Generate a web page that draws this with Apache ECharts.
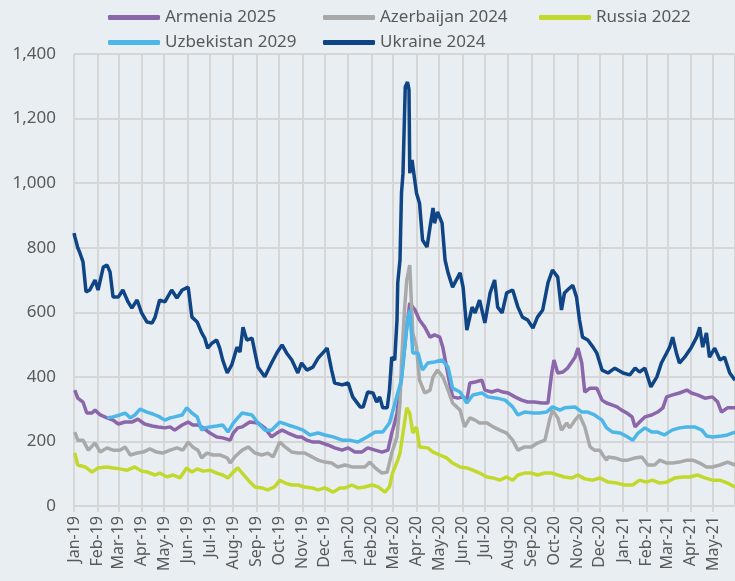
<!DOCTYPE html>
<html>
<head>
<meta charset="utf-8">
<script src="https://cdn.jsdelivr.net/npm/echarts@6/dist/echarts.min.js"></script>
<style>
html,body{margin:0;padding:0;background:#e9eef2;}
#main{width:735px;height:581px;}
</style>
</head>
<body>
<div id="main"></div>
<script>
// x values are days counted from 1 Jan 2019
var seriesNames = ['Armenia 2025', 'Azerbaijan 2024', 'Russia 2022', 'Uzbekistan 2029', 'Ukraine 2024'];
var seriesColors = ['#8c66ab', '#a9a9a9', '#c3d82c', '#4db6e8', '#0f4585'];
var monthNames = ['Jan','Feb','Mar','Apr','May','Jun','Jul','Aug','Sep','Oct','Nov','Dec'];

var armenia = [[1,359],[5,334],[12,322],[17,288],[24,288],[28,297],[35,282],[44,273],[52,266],[59,254],[68,260],[77,260],[85,269],[94,254],[104,248],[112,245],[121,242],[128,245],[134,235],[144,251],[152,260],[158,251],[165,251],[172,242],[181,226],[190,214],[198,211],[208,204],[212,226],[218,242],[224,245],[234,260],[245,257],[254,242],[263,214],[270,226],[277,235],[285,226],[297,214],[303,214],[310,204],[318,198],[327,198],[338,189],[347,180],[357,173],[365,180],[374,167],[383,167],[391,180],[401,173],[410,167],[418,173],[423,226],[427,257],[430,288],[436,400],[443,554],[447,629],[454,607],[460,576],[467,554],[474,523],[480,530],[487,523],[491,492],[496,430],[500,381],[504,338],[511,334],[518,338],[523,328],[527,381],[534,384],[543,390],[547,359],[556,353],[564,359],[571,353],[578,350],[587,338],[596,328],[604,322],[613,322],[623,319],[631,319],[636,412],[639,452],[644,412],[651,415],[657,427],[667,461],[671,489],[676,443],[680,353],[687,365],[696,365],[703,328],[709,319],[716,313],[723,307],[729,297],[736,288],[743,276],[747,245],[753,260],[760,276],[769,282],[777,291],[784,304],[789,338],[797,344],[806,350],[816,359],[822,350],[830,344],[840,334],[850,338],[857,322],[862,291],[870,304],[880,304]];

var azerbaijan = [[1,229],[5,204],[12,204],[19,173],[28,195],[35,167],[44,180],[52,173],[61,173],[68,183],[75,158],[84,164],[92,167],[101,177],[110,167],[118,164],[128,173],[137,180],[145,173],[152,198],[158,183],[165,173],[170,149],[177,164],[185,158],[194,158],[204,149],[208,133],[214,152],[221,167],[224,173],[232,183],[241,164],[250,158],[258,164],[265,152],[274,198],[281,183],[290,167],[298,164],[307,164],[317,152],[325,142],[334,136],[343,133],[351,121],[361,127],[370,121],[378,121],[387,121],[394,136],[401,118],[410,102],[417,105],[423,164],[430,214],[434,320],[436,443],[440,607],[443,700],[447,746],[451,536],[456,492],[460,390],[467,350],[474,359],[478,400],[484,421],[491,400],[498,359],[504,319],[514,297],[520,245],[527,273],[534,266],[540,257],[550,257],[558,245],[567,235],[576,226],[584,204],[591,173],[600,183],[609,183],[617,195],[627,204],[633,266],[637,297],[644,273],[649,235],[656,257],[660,242],[667,266],[673,282],[680,245],[687,183],[693,173],[700,173],[704,158],[709,142],[711,152],[720,149],[729,142],[737,142],[747,149],[756,152],[764,127],[773,127],[780,142],[789,133],[797,133],[806,136],[816,142],[824,142],[833,133],[842,121],[850,121],[860,127],[870,136],[880,127]];

var russia = [[1,164],[5,127],[15,121],[24,105],[32,118],[44,121],[52,118],[61,115],[71,111],[81,121],[90,108],[98,105],[108,96],[114,102],[124,90],[132,96],[141,87],[150,118],[157,105],[164,115],[172,108],[181,111],[190,102],[198,96],[205,87],[212,105],[218,118],[224,102],[232,80],[241,59],[250,56],[258,50],[267,59],[274,80],[281,71],[290,65],[298,65],[307,59],[317,56],[325,50],[334,56],[345,43],[354,56],[361,56],[370,65],[378,56],[387,59],[397,65],[405,59],[414,43],[420,59],[424,102],[431,142],[434,164],[438,226],[443,304],[447,288],[451,226],[456,245],[460,183],[471,180],[478,167],[487,158],[496,149],[504,133],[514,121],[523,118],[531,111],[540,102],[550,90],[558,87],[567,80],[576,90],[584,80],[591,96],[600,102],[609,102],[617,96],[627,102],[636,102],[644,96],[653,90],[663,87],[671,96],[680,84],[691,80],[700,87],[711,74],[723,71],[733,65],[744,65],[753,80],[762,74],[770,80],[780,71],[789,74],[800,87],[810,90],[820,90],[830,96],[840,87],[850,80],[860,80],[870,71],[880,59]];

var uzbekistan = [[44,273],[52,276],[61,282],[68,288],[75,273],[81,282],[88,300],[97,291],[105,285],[114,276],[121,266],[128,273],[134,276],[144,282],[150,304],[157,288],[164,276],[170,235],[174,242],[181,245],[190,248],[198,251],[205,229],[212,257],[218,273],[224,288],[237,282],[245,257],[254,235],[263,235],[274,260],[285,251],[297,242],[305,235],[314,220],[325,226],[334,220],[345,214],[357,204],[367,204],[378,198],[390,214],[401,229],[411,229],[420,257],[431,350],[436,390],[440,483],[444,576],[447,607],[451,474],[458,474],[464,421],[471,443],[480,446],[490,452],[498,430],[504,365],[514,353],[523,319],[531,344],[543,350],[551,338],[563,334],[574,328],[584,307],[591,282],[600,291],[611,288],[620,288],[629,291],[637,307],[647,297],[653,304],[667,307],[676,291],[684,291],[693,282],[703,266],[709,242],[717,229],[727,226],[737,214],[744,204],[751,226],[760,242],[769,229],[777,229],[786,220],[796,235],[806,242],[816,245],[826,245],[836,235],[842,217],[850,214],[862,217],[870,220],[880,229]];

var ukraine = [[0,845],[1,835],[5,800],[8,783],[12,756],[16,663],[21,669],[28,700],[32,669],[39,740],[44,746],[48,725],[52,647],[59,647],[65,669],[72,632],[77,613],[84,638],[90,598],[97,570],[104,567],[108,585],[114,638],[121,632],[130,669],[137,644],[144,669],[152,678],[157,585],[164,570],[170,536],[174,520],[178,489],[184,505],[190,514],[194,489],[198,452],[204,412],[210,437],[217,492],[221,477],[225,554],[230,514],[237,520],[241,474],[245,430],[254,400],[263,443],[270,474],[277,499],[283,474],[290,452],[298,412],[303,443],[310,421],[318,430],[325,458],[337,489],[343,421],[347,381],[357,375],[365,381],[371,338],[381,307],[385,307],[391,353],[398,350],[403,322],[407,338],[411,304],[417,304],[420,359],[423,461],[427,452],[430,576],[431,691],[434,762],[436,969],[438,1031],[441,1298],[444,1313],[446,1290],[447,1031],[450,1072],[456,969],[460,938],[464,824],[470,802],[474,864],[478,923],[480,876],[484,911],[490,876],[494,762],[498,722],[504,678],[514,722],[518,678],[523,545],[530,616],[534,598],[540,638],[547,567],[554,660],[560,700],[564,616],[570,598],[576,660],[584,669],[591,616],[597,585],[604,576],[611,551],[617,585],[624,607],[631,691],[637,731],[644,709],[649,607],[653,660],[657,669],[664,684],[669,647],[673,576],[677,523],[684,514],[691,492],[696,474],[703,421],[711,412],[720,427],[731,412],[740,406],[747,427],[753,415],[760,427],[768,369],[776,400],[782,443],[789,474],[793,492],[797,523],[802,474],[806,443],[813,461],[822,492],[829,523],[833,554],[837,492],[842,536],[846,461],[853,489],[860,452],[866,461],[873,412],[880,390]];

var seriesData = [armenia, azerbaijan, russia, uzbekistan, ukraine];

function toTime(pairs) {
	return pairs.map(function (p) {
		return [new Date(2019, 0, 1 + p[0]).getTime(), p[1]];
	});
}

var chart = echarts.init(document.getElementById('main'));

var textColor = '#595959';
var fontName = 'Noto Sans';

// legend laid out as a fixed grid: 3 columns, 2 rows
var legendPos = [[103, 4], [318, 4], [534, 4], [103, 29], [318, 29]];
var legends = seriesNames.map(function (name, i) {
	return {
		data: [name],
		left: legendPos[i][0],
		top: legendPos[i][1],
		icon: 'roundRect',
		itemWidth: 52,
		itemHeight: 5,
		itemGap: 6,
		textStyle: { color: textColor, fontSize: 17, fontFamily: fontName }
	};
});

var option = {
	backgroundColor: '#e9eef2',
	animation: false,
	legend: legends,
	grid: {
		left: 74,
		right: 0,
		top: 54,
		bottom: 75
	},
	xAxis: {
		type: 'time',
		min: new Date(2019, 0, 1).getTime(),
		max: new Date(2019, 0, 1 + 880).getTime(),
		splitNumber: 29,
		minInterval: 28 * 86400000,
		maxInterval: 31 * 86400000,
		axisLine: { show: true, lineStyle: { color: '#d6d6d6', width: 2 } },
		axisTick: { show: true, length: 6, lineStyle: { color: '#d6d6d6', width: 2 } },
		splitLine: { show: true, lineStyle: { color: '#d6d6d6', width: 2 } },
		axisLabel: {
			rotate: 90,
			color: textColor,
			fontSize: 16,
			fontFamily: fontName,
			margin: 10,
			hideOverlap: false,
			formatter: function (value) {
				var d = new Date(value);
				return monthNames[d.getMonth()] + '-' + String(d.getFullYear()).slice(2);
			}
		}
	},
	yAxis: {
		type: 'value',
		min: 0,
		max: 1400,
		interval: 200,
		axisLine: { show: false },
		axisTick: { show: false },
		splitLine: { lineStyle: { color: '#d6d6d6', width: 2 } },
		axisLabel: { color: textColor, fontSize: 17, fontFamily: fontName, margin: 18 }
	},
	series: seriesNames.map(function (name, i) {
		return {
			name: name,
			type: 'line',
			showSymbol: false,
			smooth: false,
			color: seriesColors[i],
			lineStyle: { width: 3.5, color: seriesColors[i] },
			data: toTime(seriesData[i])
		};
	})
};

chart.setOption(option);
</script>
</body>
</html>
